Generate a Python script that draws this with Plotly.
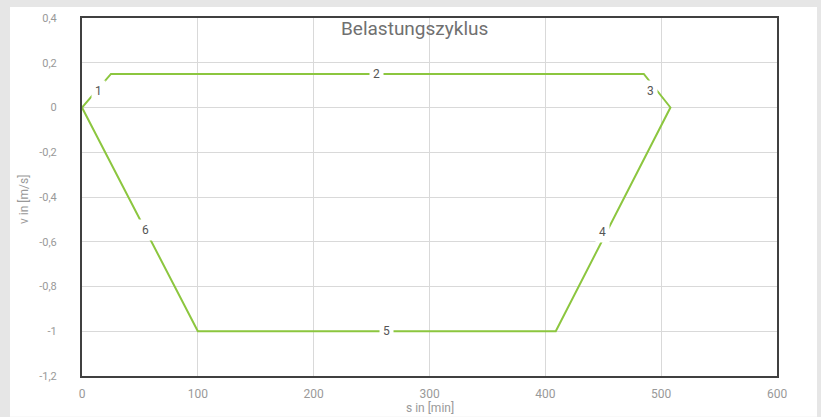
import plotly.graph_objects as go

# data
s_min = [0, 25, 485, 508, 409, 100, 0]
v_ms = [0, 0.15, 0.15, 0, -1, -1, 0]

seg_labels = ["1", "2", "3", "4", "5", "6"]
label_s = [14, 254, 491, 449, 263, 55]
label_v = [0.076, 0.15, 0.076, -0.557, -1.0, -0.548]

x_ticks = [0, 100, 200, 300, 400, 500, 600]
x_ticktext = ["0", "100", "200", "300", "400", "500", "600"]
y_ticks = [0.4, 0.2, 0, -0.2, -0.4, -0.6, -0.8, -1.0, -1.2]
y_ticktext = ["0,4", "0,2", "0", "-0,2", "-0,4", "-0,6", "-0,8", "-1", "-1,2"]

W, H = 821, 417
L, R, T, B = 82, 777, 16, 376
pw, ph = R - L, B - T

def px_x(p):
    return (p - L) / pw

def px_y(p):
    return (B - p) / ph

fig = go.Figure()
fig.add_trace(go.Scatter(x=s_min, y=v_ms, mode="lines",
                         line=dict(color="#8cc63f", width=2),
                         hoverinfo="skip", showlegend=False))

for t, xs, ys in zip(seg_labels, label_s, label_v):
    fig.add_annotation(x=xs, y=ys, text=t, showarrow=False,
                       bgcolor="white", borderpad=3,
                       font=dict(family="Roboto", size=12, color="#555555"))

fig.add_shape(type="rect", xref="paper", yref="paper",
              x0=px_x(10), x1=px_x(817), y0=px_y(417), y1=px_y(5),
              fillcolor="white", line=dict(width=0), layer="below")

fig.add_annotation(xref="paper", yref="paper", x=px_x(414), y=px_y(27),
                   xanchor="center", yanchor="middle",
                   text="Belastungszyklus", showarrow=False,
                   font=dict(family="Roboto", size=19, color="#707070"))
fig.add_annotation(xref="paper", yref="paper", x=px_x(430), y=px_y(408),
                   xanchor="center", yanchor="middle",
                   text="s in [min]", showarrow=False,
                   font=dict(family="Roboto", size=12, color="#999999"))
fig.add_annotation(xref="paper", yref="paper", x=px_x(24), y=px_y(198),
                   xanchor="center", yanchor="middle",
                   text="v in [m/s]", showarrow=False, textangle=-90,
                   font=dict(family="Roboto", size=12, color="#999999"))

axis_common = dict(showgrid=True, gridcolor="#d9d9d9", gridwidth=1,
                   zeroline=False, showline=True, linecolor="#404040",
                   linewidth=2, mirror=True, ticks="")

fig.update_xaxes(range=[0, 600], tickvals=x_ticks, ticktext=x_ticktext,
                 ticklabelstandoff=6,
                 tickfont=dict(family="Roboto", size=12, color="#999999"),
                 **axis_common)
fig.update_yaxes(range=[-1.2, 0.4], tickvals=y_ticks, ticktext=y_ticktext,
                 ticklabelstandoff=21,
                 tickfont=dict(family="Roboto", size=11, color="#999999"),
                 **axis_common)

fig.update_layout(width=W, height=H,
                  margin=dict(l=L, r=W - R, t=T, b=H - B),
                  paper_bgcolor="#e6e6e6", plot_bgcolor="white",
                  font=dict(family="Roboto"))

fig.write_html("out.html", config={"displayModeBar": False},
               post_script="document.body.style.margin='0';document.body.style.overflow='hidden';")
